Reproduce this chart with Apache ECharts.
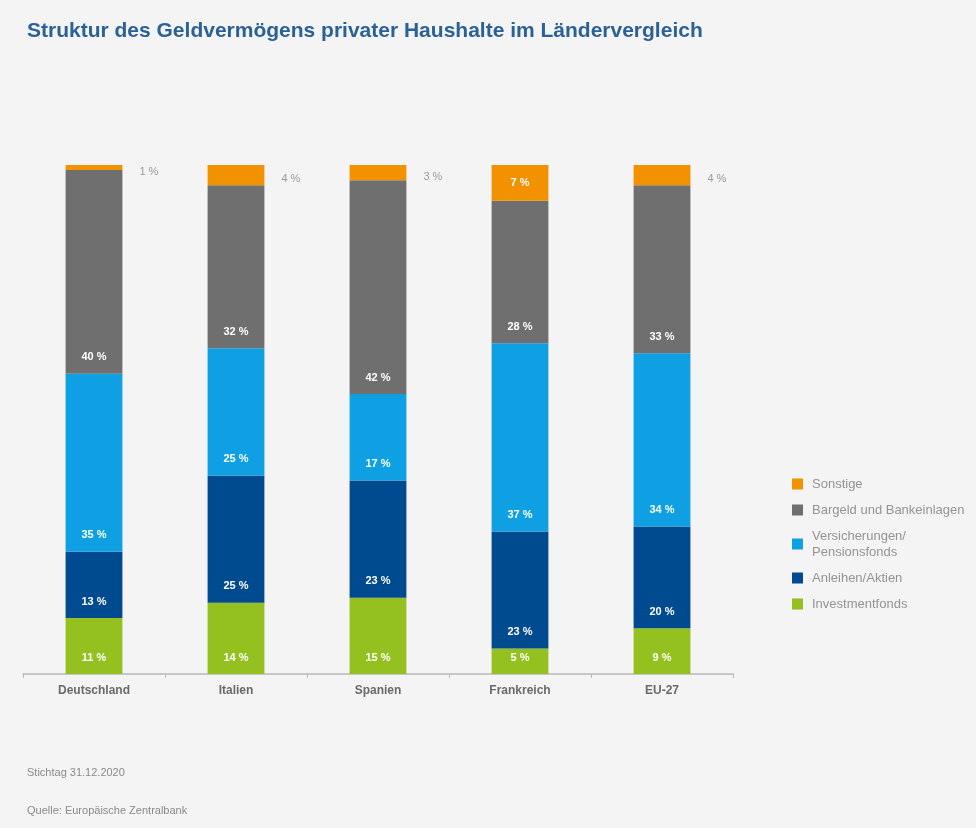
<!DOCTYPE html>
<html>
<head>
<meta charset="utf-8">
<script src="https://cdn.jsdelivr.net/npm/echarts@6/dist/echarts.min.js"></script>
<style>
html,body{margin:0;padding:0;background:#f4f4f4;}
#chart{width:976px;height:828px;}
</style>
</head>
<body>
<div id="chart"></div>
<script>
const categories = ['Deutschland', 'Italien', 'Spanien', 'Frankreich', 'EU-27'];
const investmentfonds = [11, 14, 15, 5, 9];
const anleihenAktien = [13, 25, 23, 23, 20];
const versicherungen = [35, 25, 17, 37, 34];
const bargeld = [40, 32, 42, 28, 33];
const sonstige = [1, 4, 3, 7, 4];

const seriesNames = ['Investmentfonds', 'Anleihen/Aktien', 'Versicherungen/Pensionsfonds', 'Bargeld und Bankeinlagen', 'Sonstige'];
const seriesColors = ['#94c11f', '#004a8f', '#0ea0e3', '#6f6f6f', '#f39200'];
const seriesData = [investmentfonds, anleihenAktien, versicherungen, bargeld, sonstige];

const insideLabel = {
  show: true,
  position: 'insideBottom',
  distance: 11,
  color: '#ffffff',
  fontFamily: 'Liberation Sans, Arial, sans-serif',
  fontSize: 11,
  fontWeight: 'bold',
  formatter: '{c} %'
};

const series = seriesNames.map((name, i) => ({
  name: name,
  type: 'bar',
  stack: 'total',
  barWidth: '40%',
  itemStyle: { color: seriesColors[i] },
  label: insideLabel,
  emphasis: { disabled: true },
  data: seriesData[i].map(v => {
    if (name === 'Sonstige' && v < 5) {
      return {
        value: v,
        label: {
          show: true, position: 'right', distance: 15, offset: [2, 4], color: '#9a9a9a',
          fontFamily: 'Liberation Sans, Arial, sans-serif', fontSize: 11, fontWeight: 'normal',
          formatter: '{c} %'
        }
      };
    }
    if (name === 'Sonstige') {
      return { value: v, label: Object.assign({}, insideLabel, { position: 'inside', distance: 0 }) };
    }
    return v;
  })
}));

const chart = echarts.init(document.getElementById('chart'));
chart.setOption({
  backgroundColor: '#f4f4f4',
  animation: false,
  title: [
    {
      text: 'Struktur des Geldvermögens privater Haushalte im Ländervergleich',
      left: 22, top: 16,
      textStyle: { color: '#2a6197', fontSize: 21, fontWeight: 'bold', fontFamily: 'Liberation Sans, Arial, sans-serif' }
    },
    {
      text: 'Stichtag 31.12.2020',
      left: 22, top: 762,
      textStyle: { color: '#8a8a8a', fontSize: 11, fontWeight: 'normal', fontFamily: 'Liberation Sans, Arial, sans-serif' }
    },
    {
      text: 'Quelle: Europäische Zentralbank',
      left: 22, top: 800,
      textStyle: { color: '#8a8a8a', fontSize: 11, fontWeight: 'normal', fontFamily: 'Liberation Sans, Arial, sans-serif' }
    }
  ],
  legend: {
    orient: 'vertical',
    left: 787,
    top: 471,
    itemWidth: 11,
    itemHeight: 11,
    itemGap: 10,
    icon: 'rect',
    data: ['Sonstige', 'Bargeld und Bankeinlagen', 'Versicherungen/Pensionsfonds', 'Anleihen/Aktien', 'Investmentfonds'],
    formatter: n => n === 'Versicherungen/Pensionsfonds' ? 'Versicherungen/\nPensionsfonds' : n,
    textStyle: { color: '#949494', fontSize: 13, lineHeight: 16, padding: [0, 0, 0, 4], fontFamily: 'Liberation Sans, Arial, sans-serif' },
    selectedMode: false
  },
  grid: { left: 23, right: 243, top: 165, bottom: 154, containLabel: false },
  xAxis: {
    type: 'category',
    data: categories,
    axisLine: { lineStyle: { color: '#b8b8b8', width: 1.5 } },
    axisTick: { show: true, length: 4, lineStyle: { color: '#b8b8b8' } },
    axisLabel: { color: '#6a6a6a', fontSize: 12, fontWeight: 'bold', margin: 11, fontFamily: 'Liberation Sans, Arial, sans-serif' }
  },
  yAxis: {
    type: 'value',
    min: 0, max: 100, interval: 20,
    show: false,
    splitLine: { show: false }
  },
  series: series
});
</script>
</body>
</html>
